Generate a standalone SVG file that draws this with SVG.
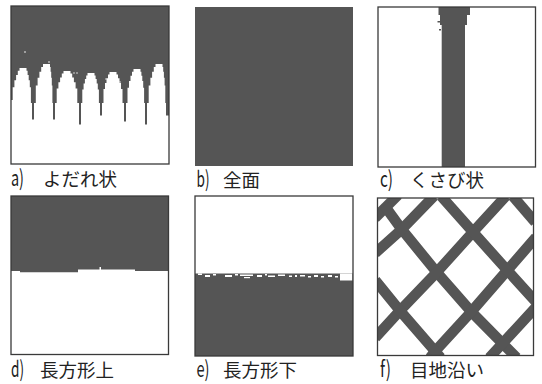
<svg xmlns="http://www.w3.org/2000/svg" width="542" height="384" viewBox="0 0 542 384">
<defs>
<style>
.dk{fill:#555555}
.wh{fill:#ffffff}
.fr{fill:none;stroke:#3a3a3a;stroke-width:1.3}
.band{fill:none;stroke:#555555;stroke-width:10.5;stroke-linecap:butt;stroke-linejoin:round}
.lt{font-family:"Noto Sans CJK JP","Liberation Sans",sans-serif;font-size:22px;fill:#222}
.jp{font-family:"Noto Sans CJK JP",sans-serif;font-size:18.5px;fill:#222}
</style>
<clipPath id="clipF"><rect x="377.5" y="198" width="156" height="157.5"/></clipPath>
</defs>
<rect width="542" height="384" fill="#ffffff"/>

<g id="panel-a">
<rect class="wh" x="11" y="6" width="158" height="158"/>
<rect class="dk" x="11" y="6" width="158" height="119"/>
<path class="wh" d="M11,126 V100 H12.7 V87.3 H14.4 V80.3 H16.1 V75 H17.8 V70.8 H19.5 V68 H26.5 V70.8 H27.6 V75 H28.7 V80.3 H29.8 V87.3 H30.9 V103 H32 V126 Z"/>
<path class="wh" d="M34,126 V103 H35.8 V85.5 H37.6 V77.7 H39.4 V71.8 H41.2 V67.1 H43 V64 H50 V67.1 H50.6 V71.8 H51.2 V77.7 H51.8 V85.5 H52.4 V103 H53 V126 Z"/>
<path class="wh" d="M55,126 V103 H56.7 V88.6 H58.4 V82.2 H60.1 V77.4 H61.8 V73.6 H63.5 V71 H70.5 V73.6 H72.2 V77.4 H73.9 V82.2 H75.6 V88.6 H77.3 V103 H79 V126 Z"/>
<path class="wh" d="M81,126 V103 H82.3 V89.5 H83.6 V83.5 H84.9 V79 H86.2 V75.4 H87.5 V73 H94.5 V75.4 H95.6 V79 H96.7 V83.5 H97.8 V89.5 H98.9 V103 H100 V126 Z"/>
<path class="wh" d="M102,126 V103 H103.5 V89.1 H105 V82.9 H106.5 V78.2 H108 V74.5 H109.5 V72 H116.5 V74.5 H118 V78.2 H119.5 V82.9 H121 V89.1 H122.5 V103 H124 V126 Z"/>
<path class="wh" d="M126,126 V103 H127.5 V87.7 H129 V80.9 H130.5 V75.8 H132 V71.7 H133.5 V69 H140.5 V71.7 H141.4 V75.8 H142.3 V80.9 H143.2 V87.7 H144.1 V103 H145 V126 Z"/>
<path class="wh" d="M147,126 V103 H148.7 V85.5 H150.4 V77.7 H152.1 V71.8 H153.8 V67.1 H155.5 V64 H162.5 V67.1 H163.2 V71.8 H163.9 V77.7 H164.6 V85.5 H165.3 V103 H166 V126 Z"/>
<rect class="wh" x="11" y="124.5" width="158" height="39.5"/>
<rect class="wh" x="31.5" y="119.5" width="3" height="6"/>
<rect class="wh" x="52.5" y="119.5" width="3" height="6"/>
<rect class="wh" x="99.5" y="115.5" width="3" height="10"/>
<rect class="wh" x="123.5" y="121.5" width="3" height="4"/>
<rect class="wh" x="165.5" y="115.5" width="3.5" height="10"/>
<circle class="wh" cx="25" cy="52" r="0.8"/>
<circle class="wh" cx="49" cy="62" r="0.8"/>
<circle class="wh" cx="74" cy="73" r="0.7"/>
<circle class="wh" cx="77" cy="73" r="0.7"/>
<circle class="wh" cx="106" cy="79" r="0.7"/>
<circle class="wh" cx="120" cy="82" r="0.7"/>
<rect class="fr" x="11" y="6" width="158" height="158"/>
<text class="lt" x="11" y="186" textLength="13" lengthAdjust="spacingAndGlyphs">a)</text>
<text class="jp" x="43" y="186">よだれ状</text>
</g>

<g id="panel-b">
<rect class="dk" x="195" y="7" width="158" height="159"/>
<text class="lt" x="196.5" y="186.5" textLength="13" lengthAdjust="spacingAndGlyphs">b)</text>
<text class="jp" x="223" y="186.5">全面</text>
</g>

<g id="panel-c">
<rect class="wh" x="378" y="7" width="157.5" height="160"/>
<path class="dk" d="M438.5,7 H470 V15 H467 V25 H465 V167 H441.7 V25 H440 V15 H438.5 Z"/>
<rect class="dk" x="437.5" y="21" width="2.5" height="1.5"/>
<rect class="dk" x="439" y="29" width="2" height="1.5"/>
<rect class="fr" x="378" y="7" width="157.5" height="160"/>
<text class="lt" x="380" y="186.5" textLength="13" lengthAdjust="spacingAndGlyphs">c)</text>
<text class="jp" x="410" y="186.5">くさび状</text>
</g>

<g id="panel-d">
<rect class="wh" x="11" y="196" width="157.5" height="158.5"/>
<path class="dk" d="M11,196 H168.5 V271 H135 V269.5 H101 V267 H99.5 V269.5 H78 V272.3 H20 V271 H11 Z"/>
<rect class="fr" x="11" y="196" width="157.5" height="158.5"/>
<text class="lt" x="11" y="377" textLength="13" lengthAdjust="spacingAndGlyphs">d)</text>
<text class="jp" x="40" y="377">長方形上</text>
</g>

<g id="panel-e">
<rect class="wh" x="195" y="196" width="158" height="160"/>
<rect class="dk" x="195" y="273.5" width="158" height="82.5"/>
<g class="wh">
<rect x="198" y="273.5" width="4" height="1.5"/>
<rect x="205" y="275" width="5" height="2"/>
<rect x="213" y="274" width="3" height="1.5"/>
<rect x="225" y="275" width="7" height="2"/>
<rect x="235" y="274" width="3" height="1.5"/>
<rect x="240" y="274.5" width="13" height="1.5"/>
<rect x="244" y="277" width="6" height="1.2"/>
<rect x="257" y="275" width="5" height="2"/>
<rect x="265" y="274" width="2" height="1.5"/>
<rect x="268" y="275.5" width="7" height="1.5"/>
<rect x="278" y="274.5" width="7" height="1.5"/>
<rect x="289" y="275.5" width="3" height="1.5"/>
<rect x="295" y="275" width="2" height="2"/>
<rect x="300" y="275" width="5" height="1.5"/>
<rect x="308" y="276" width="3" height="1.5"/>
<rect x="314" y="275" width="4" height="2"/>
<rect x="321" y="276" width="3" height="1.5"/>
<rect x="328" y="275" width="4" height="2"/>
<rect x="335" y="276" width="3" height="1.5"/>
<rect x="340" y="273.5" width="12.5" height="7"/>
</g>
<rect class="fr" x="195" y="196" width="158" height="160"/>
<text class="lt" x="196.5" y="377" textLength="13" lengthAdjust="spacingAndGlyphs">e)</text>
<text class="jp" x="223" y="377">長方形下</text>
</g>

<g id="panel-f">
<rect class="wh" x="377.5" y="198" width="156" height="157.5"/>
<g clip-path="url(#clipF)">
<polyline class="band" points="398,195 375,218"/>
<polyline class="band" points="384.3,205.3 401.7,229.3 436.7,272.3 471.3,311.7 488.3,329 516.7,357.7"/>
<polyline class="band" points="434,196 401.7,229.3 375.3,253"/>
<polyline class="band" points="506,196 473,232 436.7,272.3 400,310.7 375.3,337.7"/>
<polyline class="band" points="536,237.3 507.3,270.3 471.3,311.7 435.3,351 430,357.7"/>
<polyline class="band" points="536,307 519.3,325.3 489.3,357.7"/>
<polyline class="band" points="375.3,280.3 400,310.7 440.7,357.7"/>
<polyline class="band" points="441,196 473,232 507.3,270.3 536,302"/>
<polyline class="band" points="512.7,196 535.3,222.3"/>
</g>
<rect class="fr" x="377.5" y="198" width="156" height="157.5"/>
<text class="lt" x="380" y="377" textLength="11" lengthAdjust="spacingAndGlyphs">f)</text>
<text class="jp" x="410" y="377">目地沿い</text>
</g>
</svg>
